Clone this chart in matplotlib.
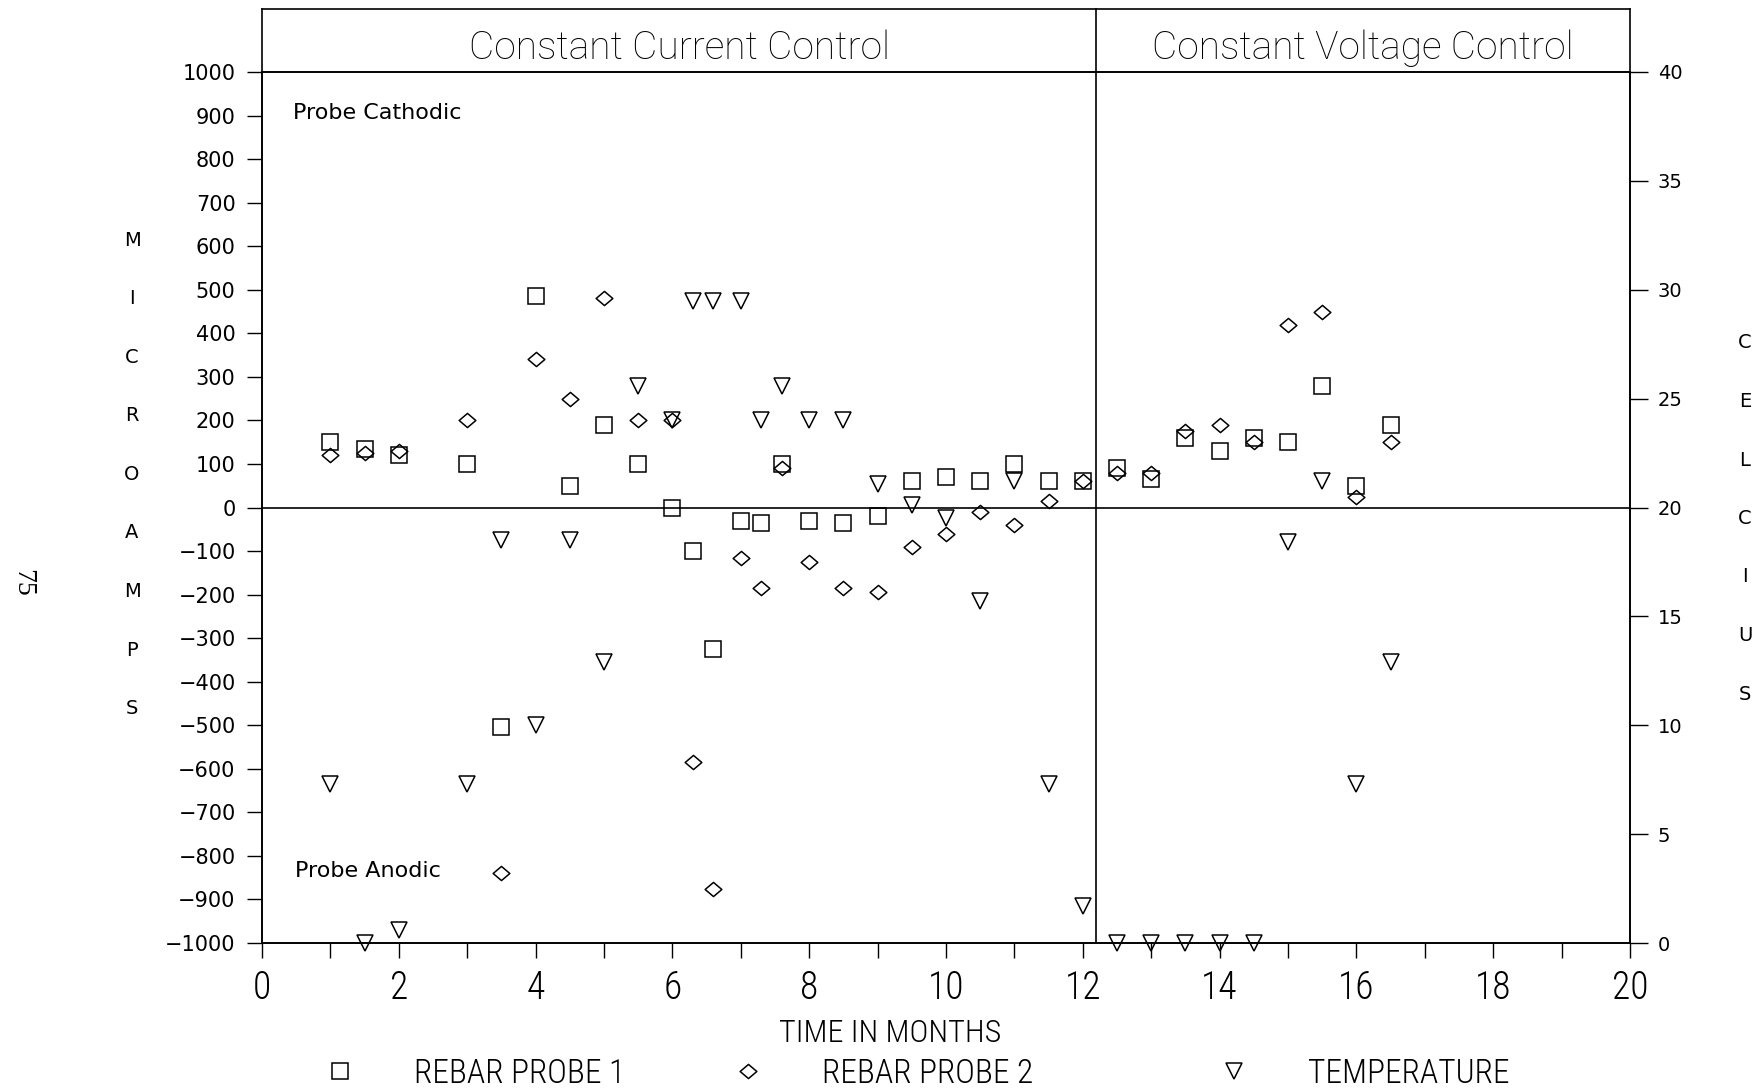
import matplotlib
matplotlib.use("Agg")
import matplotlib.pyplot as plt
from matplotlib import font_manager
from matplotlib.font_manager import FontProperties
from matplotlib.lines import Line2D
from matplotlib.path import Path
from matplotlib.ticker import MultipleLocator

# Sampling times (months) and readings
months = [1, 1.5, 2, 3, 3.5, 4, 4.5, 5, 5.5, 6, 6.3, 6.6, 7, 7.3, 7.6, 8, 8.5,
          9, 9.5, 10, 10.5, 11, 11.5, 12, 12.5, 13, 13.5, 14, 14.5, 15, 15.5,
          16, 16.5]
probe1 = [150, 135, 120, 100, -505, 485, 50, 190, 100, 0, -100, -325, -30,
          -35, 100, -30, -35, -20, 60, 70, 60, 100, 60, 60, 90, 65, 160, 130,
          160, 150, 280, 50, 190]
probe2 = [120, 125, 130, 200, -840, 340, 250, 480, 200, 200, -585, -875, -115,
          -185, 90, -125, -185, -195, -90, -60, -10, -40, 15, 60, 80, 80, 175,
          190, 150, 420, 450, 25, 150]
temperature = [7.3, 0, 0.6, 7.3, 18.5, 10, 18.5, 12.9, 25.6, 24, 29.5, 29.5,
               29.5, 24, 25.6, 24, 24, 21.1, 20.1, 19.5, 15.7, 21.2, 7.3, 1.7,
               0, 0, 0, 0, 0, 18.4, 21.2, 7.3, 12.9]

switch_month = 12.2          # change from current to voltage control
current_ticks = list(range(-1000, 1001, 100))
celsius_ticks = list(range(0, 41, 5))
month_ticks = list(range(0, 21, 2))


# ---- font selection -------------------------------------------------------
def _weight(f):
    w = f.weight
    if isinstance(w, str):
        w = font_manager.weight_dict.get(w, 400)
    return w


def condensed_face():
    faces = font_manager.fontManager.ttflist
    options = [("Liberation Sans Narrow", None), ("Roboto Condensed", None),
               ("Noto Sans Condensed", None), ("Open Sans Condensed", None),
               ("DejaVu Sans", "condensed"), ("Noto Sans", "condensed"),
               ("Open Sans", "condensed"), ("Roboto", "condensed")]
    for name, stretch in options:
        for f in faces:
            if f.name == name and (stretch is None or f.stretch == stretch):
                return name, (stretch or "normal"), True
    return "DejaVu Sans", "normal", False


def light_face():
    faces = font_manager.fontManager.ttflist
    for name in ("DejaVu Sans", "Roboto", "Lato", "Open Sans", "Noto Sans"):
        for f in faces:
            if f.name == name and 250 <= _weight(f) <= 350 and f.style == "normal":
                return name, "light"
    return "DejaVu Sans", "normal"


NARROW, NARROW_STRETCH, HAVE_NARROW = condensed_face()
LIGHT, LIGHT_WEIGHT = light_face()


def narrow_props(size):
    return FontProperties(family=NARROW, stretch=NARROW_STRETCH, size=size,
                          weight="light")


tick_size_x = 27 if HAVE_NARROW else 22
label_size = 23 if HAVE_NARROW else 19
legend_size = 24 if HAVE_NARROW else 20

LW = 1.2
diamond = Path([(-1, 0), (0, 0.85), (1, 0), (0, -0.85), (-1, 0)],
               [Path.MOVETO, Path.LINETO, Path.LINETO, Path.LINETO,
                Path.CLOSEPOLY])
style_p1 = dict(marker="s", ms=11.5, mfc="none", mec="k", mew=1.1, ls="none")
style_p2 = dict(marker=diamond, ms=12, mfc="none", mec="k", mew=1.1, ls="none")
style_t = dict(marker="v", ms=11.5, mfc="none", mec="k", mew=1.1, ls="none")

fig = plt.figure(figsize=(17.64, 10.92), dpi=100)
ax = fig.add_axes([0.1485, 0.1364, 0.7755, 0.7977])
ax2 = ax.twinx()

ax.set_xlim(0, 20)
ax.set_ylim(-1000, 1000)
ax2.set_ylim(0, 40)

ax.plot(months, probe1, clip_on=False, **style_p1)
ax.plot(months, probe2, clip_on=False, **style_p2)
ax2.plot(months, temperature, clip_on=False, **style_t)

ax.axhline(0, color="k", lw=LW)
ax.axvline(switch_month, color="k", lw=LW)

for a in (ax, ax2):
    for s in a.spines.values():
        s.set_linewidth(LW)

# Ticks
ax.set_yticks(current_ticks)
ax.tick_params(axis="y", direction="out", length=11, width=1, pad=8,
               labelsize=15)
ax.set_xticks(month_ticks)
ax.xaxis.set_minor_locator(MultipleLocator(1))
ax.tick_params(axis="x", which="both", direction="out", length=11, width=1,
               pad=8)
for lab in ax.get_xticklabels():
    lab.set_fontproperties(narrow_props(tick_size_x))
ax2.set_yticks(celsius_ticks)
ax2.tick_params(axis="y", direction="out", length=13, width=1, pad=7,
                labelsize=14)

# Header boxes above the plot
trans = ax.get_xaxis_transform()
box_top = 1.0723
for xv in (0, switch_month, 20):
    ax.plot([xv, xv], [1, box_top], transform=trans, color="k", lw=LW,
            clip_on=False)
ax.plot([0, 20], [box_top, box_top], transform=trans, color="k", lw=LW,
        clip_on=False)
title_kw = dict(transform=trans, ha="center", va="center", fontsize=28,
                family=LIGHT, fontweight=LIGHT_WEIGHT)
ax.text(switch_month / 2, 1.027, "Constant Current Control", **title_kw)
ax.text((switch_month + 20) / 2, 1.027, "Constant Voltage Control",
        **title_kw)

ax.text(0.45, 905, "Probe Cathodic", va="center", fontsize=16)
ax.text(0.48, -835, "Probe Anodic", va="center", fontsize=16)

# Vertical axis titles, one letter per line
for i, ch in enumerate("MICROAMPS"):
    fig.text(132 / 1764, 1 - (240 + i * 58.6) / 1092, ch, ha="center",
             va="center", fontsize=14)
for i, ch in enumerate("CELCIUS"):
    fig.text(1745 / 1764, 1 - (343 + i * 58.5) / 1092, ch, ha="center",
             va="center", fontsize=14)

fig.text(890 / 1764, 1 - 1034 / 1092, "TIME IN MONTHS", ha="center",
         va="center", fontproperties=narrow_props(label_size))

# Legend entries along the bottom
entries = [(style_p1, "REBAR PROBE 1", 340),
           (style_p2, "REBAR PROBE 2", 748),
           (style_t, "TEMPERATURE", 1234)]
em = legend_size * 100 / 72
for st, label, xm in entries:
    h = Line2D([], [], **st)
    fig.legend(handles=[h], labels=[label], loc="center left",
               bbox_to_anchor=((xm - em / 2) / 1764, 1 - 1074 / 1092),
               frameon=False, borderpad=0, borderaxespad=0, handlelength=1,
               handletextpad=(74 - em / 2) / em, numpoints=1,
               prop=narrow_props(legend_size))

fig.text(23 / 1764, 1 - 583 / 1092, "75", rotation=-90, ha="center",
         va="center", fontsize=20, family="Liberation Serif")

fig.savefig("out.png", dpi=100)
